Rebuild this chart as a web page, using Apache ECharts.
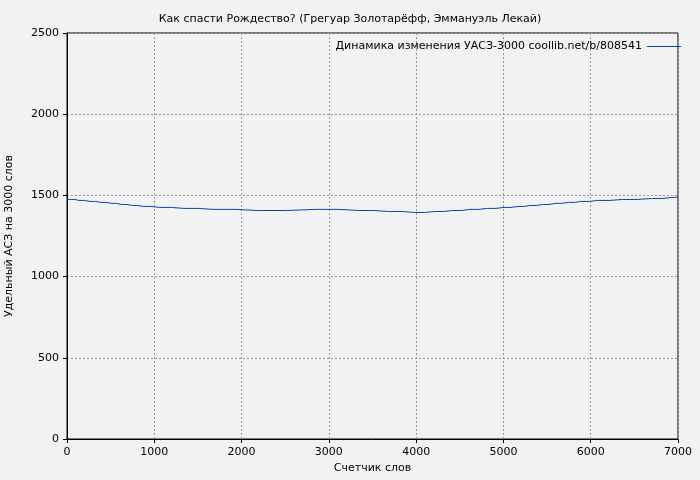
<!DOCTYPE html>
<html><head><meta charset="utf-8">
<script src="https://cdn.jsdelivr.net/npm/echarts@6/dist/echarts.min.js"></script>
<style>html,body{margin:0;background:#f2f2f2}#c{width:700px;height:480px}</style>
</head><body><div id="c"></div>
<script>
const words = [0,48,135,263,387,506,625,749,873,1056,1336,1670,2179,2852,3347,3682,3980,4213,4420,4621,4818,5006,5166,5308,5451,5593,5744,5890,6078,6362,6697,6940,7000];
const acs = [1475,1475,1469,1463,1457,1451,1444,1438,1432,1426,1420,1414,1407,1414,1407,1401,1395,1401,1407,1414,1420,1426,1432,1438,1444,1451,1457,1463,1469,1475,1481,1488,1488];
const title = 'Как спасти Рождество? (Грегуар Золотарёфф, Эммануэль Лекай)';
const seriesName = 'Динамика изменения УАСЗ-3000 coollib.net/b/808541';
const chart = echarts.init(document.getElementById('c'));
const font = 'DejaVu Sans';
const axisCommon = {
  axisLine:{lineStyle:{color:'#000'}}, axisTick:{inside:false,length:4,lineStyle:{color:'#000'}},
  axisLabel:{color:'#000',fontFamily:font,fontSize:11,formatter:v=>String(v)},
  splitLine:{show:true,lineStyle:{color:'#999',type:[2,2]}},
  nameTextStyle:{color:'#000',fontFamily:font,fontSize:11}
};
chart.setOption({
  backgroundColor:'#f2f2f2',
  animation:false,
  title:{text:title,left:'center',top:9,textStyle:{fontFamily:font,fontSize:11,fontWeight:'normal',color:'#000'}},
  grid:{left:67,right:22,top:33,bottom:41,outerBoundsMode:'none',containLabel:false,show:true,borderColor:'#000',borderWidth:1,backgroundColor:'#f2f2f2'},
  legend:{right:14,top:36,itemWidth:34,itemHeight:1,icon:'rect',align:'right',data:[seriesName],
    textStyle:{fontFamily:font,fontSize:11,color:'#000'}},
  xAxis:Object.assign({type:'value',min:0,max:7000,interval:1000,name:'Счетчик слов',nameLocation:'middle',nameGap:24},axisCommon),
  yAxis:Object.assign({type:'value',min:0,max:2500,interval:500,name:'Удельный АСЗ на 3000 слов',nameLocation:'middle',nameGap:52},axisCommon),
  series:[{name:seriesName,type:'line',step:'middle',data:words.map((w,i)=>[w,acs[i]]),showSymbol:false,
    lineStyle:{color:'#0645ad',width:1},itemStyle:{color:'#0645ad'}}]
});
</script></body></html>
